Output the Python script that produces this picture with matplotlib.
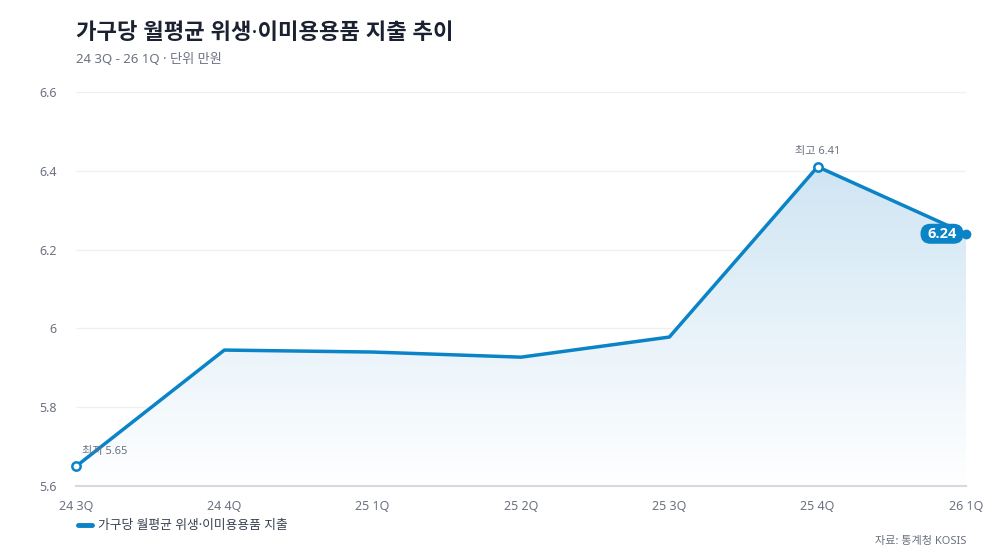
import numpy as np
import matplotlib
matplotlib.use("Agg")
import matplotlib.pyplot as plt
from matplotlib.colors import LinearSegmentedColormap
from matplotlib.patches import FancyBboxPatch
from matplotlib.transforms import ScaledTranslation

plt.rcParams['font.family'] = ['Noto Sans', 'Noto Sans CJK KR', 'DejaVu Sans']

# 데이터
quarters = ["24 3Q", "24 4Q", "25 1Q", "25 2Q", "25 3Q", "25 4Q", "26 1Q"]
values = [5.65, 5.945, 5.94, 5.927, 5.978, 6.41, 6.24]
yticks = [5.6, 5.8, 6.0, 6.2, 6.4, 6.6]
ytick_labels = ["5.6", "5.8", "6", "6.2", "6.4", "6.6"]
series_name = "가구당 월평균 위생·이미용용품 지출"

line_c = "#0a84c6"
txt_gray = "#6b7280"

fig = plt.figure(figsize=(10, 5.6), dpi=100)
ax = fig.add_axes([0.076, 0.132, 0.89, 0.704])

x = np.arange(len(quarters))
ax.set_xlim(0, len(quarters) - 1)
ax.set_ylim(5.6, 6.6)

# 그라데이션 채우기
poly = ax.fill_between(x, values, 5.6, color="none")
cmap = LinearSegmentedColormap.from_list("g", ["#ffffff", "#cfe5f3"])
grad = np.linspace(0, 1, 256).reshape(-1, 1)
img = ax.imshow(grad, cmap=cmap, aspect="auto", origin="lower",
                extent=[0, len(quarters) - 1, 5.6, max(values)], zorder=1)
img.set_clip_path(poly.get_paths()[0], transform=ax.transData)

ax.plot(x, values, color=line_c, lw=2.5, zorder=3, solid_joinstyle="round")

# 최저/최고 표시
imin = int(np.argmin(values))
imax = int(np.argmax(values))
for i, lab in [(imin, "최저 %.2f" % values[imin]), (imax, "최고 %.2f" % values[imax])]:
    ax.plot(x[i], values[i], "o", ms=6, mfc="white", mec=line_c, mew=1.8, zorder=4, clip_on=False)
    ax.annotate(lab, (x[i], values[i]), xytext=(4 if i == 0 else 0, 7), textcoords="offset points",
                ha="left" if i == 0 else "center", va="bottom", fontsize=8, color=txt_gray)

# 마지막 값 라벨 (알약 모양)
ax.plot(x[-1], values[-1], "o", ms=6, color=line_c, zorder=4, clip_on=False)
tr = fig.dpi_scale_trans + ScaledTranslation(x[-1], values[-1], ax.transData)
pill = FancyBboxPatch((-0.455, -0.10), 0.43, 0.20, boxstyle="round,pad=0,rounding_size=0.10",
                      fc=line_c, ec="none", transform=tr, zorder=5, clip_on=False)
ax.add_patch(pill)
ax.text(-0.24, 0.0, "%.2f" % values[-1], transform=tr, ha="center", va="center",
        fontsize=10.5, fontweight="bold", color="white", zorder=6, family=["Open Sans"])

ax.set_yticks(yticks)
ax.set_yticklabels(ytick_labels)
ax.set_xticks(x)
ax.set_xticklabels(quarters)
ax.grid(axis="y", color="#eef0f4", lw=1)
ax.set_axisbelow(True)
for s in ["top", "right", "left"]:
    ax.spines[s].set_visible(False)
ax.spines["bottom"].set_color("#d6d9e0")
ax.spines["bottom"].set_linewidth(1.5)
ax.tick_params(axis="both", length=0, colors=txt_gray, labelsize=9)
ax.tick_params(axis="y", pad=14)
ax.tick_params(axis="x", pad=10)

fig.text(0.076, 0.94, "가구당 월평균 위생·이미용용품 지출 추이", fontsize=16, fontweight="bold",
         color="#1b2130", ha="left", va="center")
fig.text(0.076, 0.893, "24 3Q - 26 1Q · 단위 만원", fontsize=9.5, color=txt_gray, ha="left", va="center")

# 범례
fig.lines.append(plt.Line2D([0.078, 0.092], [0.062, 0.062], color=line_c, lw=3.5,
                            solid_capstyle="round", transform=fig.transFigure))
fig.text(0.098, 0.062, series_name, fontsize=9.2, color="#374151", ha="left", va="center")
fig.text(0.966, 0.033, "자료: 통계청 KOSIS", fontsize=8, color=txt_gray, ha="right", va="center")

fig.savefig("out.png", dpi=100)
